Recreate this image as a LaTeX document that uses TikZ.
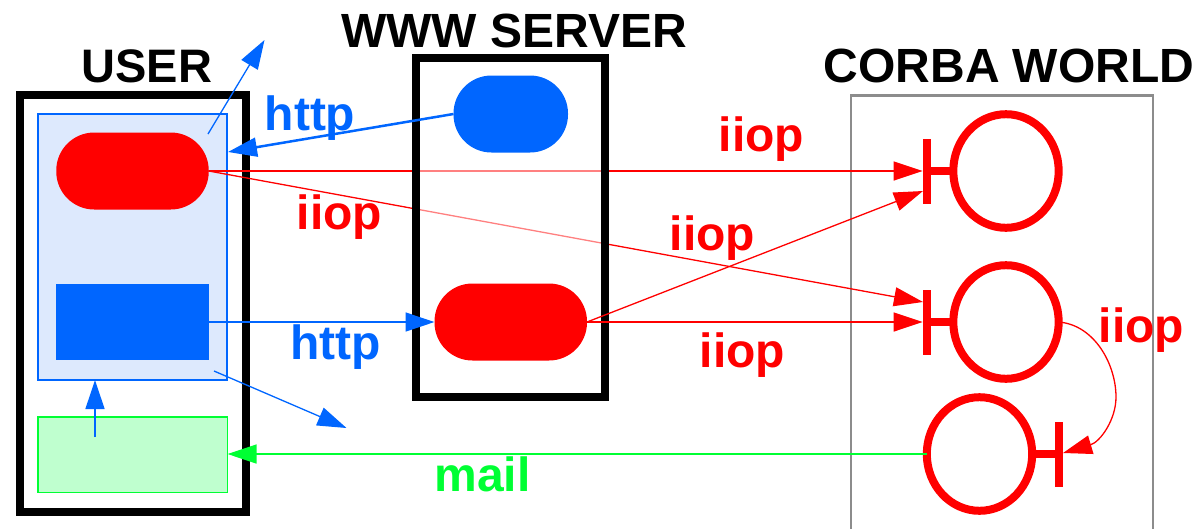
\documentclass[tikz,border=0pt]{standalone}
\usepackage{fontspec}
\setmainfont{Liberation Sans}
\usetikzlibrary{arrows.meta,shapes.geometric}
\definecolor{netblue}{HTML}{0066FF}
\definecolor{netred}{HTML}{FF0000}
\definecolor{netgreen}{HTML}{00FF33}
\definecolor{panelblue}{HTML}{DDE9FD}
\definecolor{panelgreen}{HTML}{BFFFCF}
\definecolor{worldgray}{HTML}{8C8C8C}
\tikzset{
  base/.style={inner sep=0,outer sep=0},
  hostbox/.style={base,draw=black,line width=8},
  pill/.style={base,rounded corners=38,minimum height=77},
  orb/.style={base,ellipse,draw=netred,line width=8,minimum width=105.4,minimum height=113.6},
  bar/.style={base,fill=netred},
  lbl/.style={base,anchor=base,font=\fontsize{48}{48}\selectfont\bfseries},
  tip/.style={-{Triangle[length=29,width=19]}},
  wire/.style={tip,line width=1.3},
}
\begin{document}
\begin{tikzpicture}[x=1pt,y=-1pt]
\useasboundingbox (0,0) rectangle (1197,528);
% world
\draw[worldgray,line width=2.5] (851,540) -- (851,95.5) -- (1153,95.5) -- (1153,540);
% user
\node[hostbox,minimum width=226.5,minimum height=417,anchor=north west] (user) at (19.5,95) {};
\node[base,draw=netblue,line width=2,fill=panelblue,minimum width=189,minimum height=266,anchor=north west] (panel) at (38,114) {};
\node[base,draw=netgreen,line width=1.3,fill=panelgreen,minimum width=189.5,minimum height=75.5,anchor=north west] (mailbox) at (38,417) {};
\node[pill,fill=netred,minimum width=152.5] (ured) at (132.5,171) {};
\node[base,fill=netblue,minimum width=152.5,minimum height=76.5] (ublue) at (132.5,322) {};
% corba objects
\node[orb] (o1) at (1006,171) {};
\node[orb] (o2) at (1006,322) {};
\node[orb] (o3) at (979.5,454) {};
\node[bar,minimum width=8,minimum height=65] (b1) at (926.7,171) {};
\node[bar,minimum width=8,minimum height=65] (b2) at (926.7,322) {};
\node[bar,minimum width=8,minimum height=65] (b3) at (1059,454) {};
\draw[netred,line width=8] (b1.center) -- (o1.west);
\draw[netred,line width=8] (b2.center) -- (o2.west);
\draw[netred,line width=8] (b3.center) -- (o3.east);
\coordinate (b2up) at (923,302);
\coordinate (b1low) at (923,191);
\coordinate (b3tip) at (1063,453);
% lines running behind the server box
\draw[wire,netred] (ured.east) -- (b1.west);
\draw[wire,netred] (ured.east) -- (b2up);
% server
\node[hostbox,fill=white,fill opacity=0.5,draw opacity=1,minimum width=189,minimum height=339.5,anchor=north west] (www) at (416,57.5) {};
\node[pill,fill=netblue,minimum width=114.5] (sblue) at (510.75,114) {};
\node[pill,fill=netred,minimum width=152.5] (sred) at (510.75,322) {};
% connectors
\coordinate (panelhit) at (228,152);
\coordinate (up) at (264.5,40);
\coordinate (upfrom) at (208,134);
\coordinate (dn) at (346.5,428);
\coordinate (dnfrom) at (214,371);
\coordinate (mailup) at (95,437);
\draw[tip,netblue,line width=2.5] (sblue.west) -- (panelhit);
\draw[wire,netblue] (upfrom) -- (up);
\draw[wire,netblue] (dnfrom) -- (dn);
\draw[wire,netblue] (mailup) -- (mailup |- panel.south);
\draw[wire,netblue] (ublue.east) -- (sred.west);
\draw[wire,netred] (sred.east) -- (b1low);
\draw[wire,netred] (sred.east) -- (b2.west);
\draw[wire,netgreen] (o3.west) -- (o3.west -| mailbox.east);
\draw[wire,netred] (o2.east) .. controls (1095,325) and (1116,365) .. (1116,397) .. controls (1116,420) and (1100,442) .. (b3tip);
% labels
\node[lbl,font=\fontsize{47}{47}\selectfont\bfseries] (t1) at (147,82.7) {USER};
\node[lbl] (t2) at (514,47) {WWW SERVER};
\node[lbl] (t3) at (1009,82) {CORBA WORLD};
\node[lbl,netblue] (t4) at (310,130) {http};
\node[lbl,netblue] (t5) at (335.5,359.5) {http};
\node[lbl,netred] (t6) at (761.5,151.7) {iiop};
\node[lbl,netred] (t7) at (339.5,229.5) {iiop};
\node[lbl,netred] (t8) at (712.5,250) {iiop};
\node[lbl,netred] (t9) at (742.5,367.7) {iiop};
\node[lbl,netred] (t10) at (1141.5,342.7) {iiop};
\node[lbl,netgreen] (t11) at (482.5,491) {mail};
\end{tikzpicture}
\end{document}
